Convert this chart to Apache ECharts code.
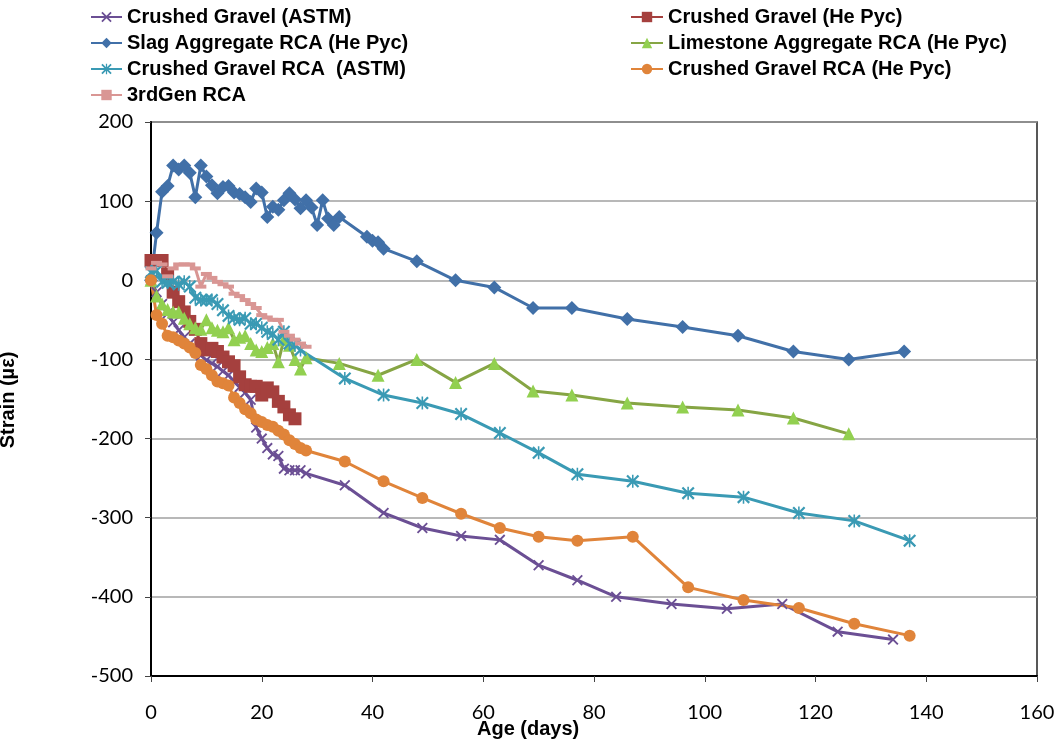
<!DOCTYPE html>
<html>
<head>
<meta charset="utf-8">
<script src="https://cdn.jsdelivr.net/npm/echarts@6/dist/echarts.min.js"></script>
<style>html,body{margin:0;padding:0;background:#fff}#c{width:1058px;height:742px}</style>
</head>
<body>
<div id="c"></div>
<script>
// ---- Data ----
const xTicks = [0, 20, 40, 60, 80, 100, 120, 140, 160];
const yTicks = [-500, -400, -300, -200, -100, 0, 100, 200];

const cgAstmDays = [0,1,2,3,4,5,6,7,8,9,10,11,12,13,14,15,16,17,18,19,20,21,22,23,24,25,26,27,28,35,42,49,56,63,70,77,84,94,104,114,124,134];
const cgAstmVals = [0,-15,-30,-42,-53,-63,-72,-80,-88,-95,-101,-105,-109,-115,-120,-128,-135,-142,-151,-186,-200,-212,-220,-222,-238,-240,-240,-240,-244,-259,-294,-313,-323,-328,-360,-379,-400,-409,-415,-409,-444,-454];

const cgHeDays = [0,1,2,3,4,5,6,7,8,9,10,11,12,13,14,15,16,17,18,19,20,21,22,23,24,25,26];
const cgHeVals = [25,25,25,8,-15,-27,-40,-52,-62,-80,-88,-86,-90,-97,-103,-108,-122,-132,-134,-134,-145,-136,-141,-153,-160,-170,-175];

const slagDays = [0,1,2,3,4,5,6,7,8,9,10,11,12,13,14,15,16,17,18,19,20,21,22,23,24,25,26,27,28,29,30,31,32,33,34,39,40,41,42,48,55,62,69,76,86,96,106,116,126,136];
const slagVals = [0,60,112,119,145,140,145,136,105,145,131,120,110,118,119,111,109,105,99,116,111,80,93,89,101,110,102,91,101,92,70,101,78,70,80,55,50,48,40,24,0,-9,-35,-35,-49,-59,-70,-90,-100,-90];

const limeDays = [0,1,2,3,4,5,6,7,8,9,10,11,12,13,14,15,16,17,18,19,20,21,22,23,24,25,26,27,28,34,41,48,55,62,69,76,86,96,106,116,126];
const limeVals = [0,-20,-30,-37,-40,-40,-48,-55,-60,-62,-50,-60,-63,-65,-60,-75,-72,-70,-80,-88,-90,-85,-80,-103,-75,-82,-100,-112,-98,-105,-120,-100,-129,-105,-140,-145,-155,-160,-164,-174,-194];

const cgRcaAstmDays = [0,1,2,3,4,5,6,7,8,9,10,11,12,13,14,15,16,17,18,19,20,21,22,23,24,25,26,27,35,42,49,56,63,70,77,87,97,107,117,127,137];
const cgRcaAstmVals = [10,12,-2,-3,-2,-5,-2,-8,-22,-25,-25,-25,-30,-38,-45,-48,-50,-48,-55,-55,-60,-65,-68,-75,-65,-80,-82,-88,-124,-145,-155,-169,-193,-218,-245,-254,-269,-274,-294,-304,-329];

const cgRcaHeDays = [0,1,2,3,4,5,6,7,8,9,10,11,12,13,14,15,16,17,18,19,20,21,22,23,24,25,26,27,28,35,42,49,56,63,70,77,87,97,107,117,127,137];
const cgRcaHeVals = [0,-44,-55,-70,-72,-76,-80,-85,-92,-107,-112,-120,-128,-130,-133,-148,-155,-163,-168,-176,-179,-183,-185,-190,-195,-202,-207,-212,-215,-229,-254,-275,-295,-313,-324,-329,-324,-388,-404,-414,-434,-449];

const gen3Days = [0,1,2,3,4,5,6,7,8,9,10,11,12,13,14,15,16,17,18,19,20,21,22,23,24,25,26,27,28];
const gen3Vals = [15,22,20,5,15,20,20,20,15,-8,8,3,-2,-5,-8,-17,-20,-25,-30,-35,-44,-47,-50,-50,-65,-70,-75,-80,-84];

const names = ['Crushed Gravel (ASTM)','Crushed Gravel (He Pyc)','Slag Aggregate RCA (He Pyc)','Limestone Aggregate RCA (He Pyc)','Crushed Gravel RCA  (ASTM)','Crushed Gravel RCA (He Pyc)','3rdGen RCA'];

// ---- helpers ----
function pairs(d, v) { return d.map((x, i) => [x, v[i]]); }
const X_PATH = 'path://M0,1.2 L1.2,0 L10,8.8 L8.8,10 Z M8.8,0 L10,1.2 L1.2,10 L0,8.8 Z';
const AST_PATH = 'path://M0,1.2 L1.2,0 L10,8.8 L8.8,10 Z M8.8,0 L10,1.2 L1.2,10 L0,8.8 Z M4.4,0 L5.6,0 L5.6,10 L4.4,10 Z';

function mk(name, d, v, lineColor, markColor, symbol, size) {
  return {
    name, type: 'line', data: pairs(d, v),
    symbol, symbolSize: size, showSymbol: true,
    lineStyle: { color: lineColor, width: 3 },
    itemStyle: { color: markColor, borderWidth: 0 },
    emphasis: { disabled: true },
    z: 2
  };
}

const series = [
  mk(names[0], cgAstmDays, cgAstmVals, '#6B4F94', '#6B4F94', X_PATH, 11),
  mk(names[1], cgHeDays, cgHeVals, '#A5403E', '#A5403E', 'rect', 13),
  mk(names[2], slagDays, slagVals, '#4170A8', '#4170A8', 'diamond', 14),
  mk(names[3], limeDays, limeVals, '#86A544', '#92D050', 'triangle', 13),
  mk(names[4], cgRcaAstmDays, cgRcaAstmVals, '#3A9AB4', '#3A9AB4', AST_PATH, 13),
  mk(names[5], cgRcaHeDays, cgRcaHeVals, '#E0843A', '#E0843A', 'circle', 12),
  mk(names[6], gen3Days, gen3Vals, '#D99694', '#D99694', 'rect', [11, 4])
];

const chart = echarts.init(document.getElementById('c'), null, { renderer: 'canvas' });
const legendText = { fontFamily: 'Liberation Sans Narrow, Liberation Sans, Arial, sans-serif', fontWeight: 'bold', fontSize: 20, color: '#000', lineHeight: 20 };
chart.setOption({
  animation: false,
  backgroundColor: '#fff',
  grid: { left: 151, right: 21, top: 122, bottom: 66, show: true, borderColor: '#222', borderWidth: 1.5, backgroundColor: 'transparent' },
  legend: [
    { data: [names[0], names[2], names[4], names[6]], orient: 'vertical', left: 90, top: 7, padding: 0, itemWidth: 31, itemHeight: 13, itemGap: 6, textStyle: legendText, selectedMode: false },
    { data: [names[1], names[3], names[5]], orient: 'vertical', left: 630, top: 7, padding: 0, itemWidth: 32, itemHeight: 13, itemGap: 6, textStyle: legendText, selectedMode: false }
  ],
  xAxis: {
    type: 'value', min: xTicks[0], max: xTicks[xTicks.length - 1], interval: 20,
    axisLine: { show: true, onZero: false, lineStyle: { color: '#000', width: 2 } },
    axisTick: { show: true, inside: false, length: 6, lineStyle: { color: '#444', width: 1 } },
    axisLabel: { fontFamily: 'Lato, Liberation Sans, sans-serif', fontSize: 20, color: '#000', margin: 27 },
    splitLine: { show: false }
  },
  yAxis: {
    type: 'value', min: yTicks[0], max: yTicks[yTicks.length - 1], interval: 100,
    axisLine: { show: true, onZero: false, lineStyle: { color: '#000', width: 2 } },
    axisTick: { show: true, inside: false, length: 6, lineStyle: { color: '#444', width: 1 } },
    axisLabel: { fontFamily: 'Lato, Liberation Sans, sans-serif', fontSize: 20, color: '#000', margin: 18 },
    splitLine: { show: true, lineStyle: { color: '#a0a0a0', width: 1.5 } }
  },
  graphic: [
    { type: 'text', left: 477, top: 719, style: { text: 'Age (days)', fontFamily: 'Liberation Sans Narrow, Liberation Sans, sans-serif', fontWeight: 'bold', fontSize: 20, fill: '#000' } },
    { type: 'text', x: 8, y: 400, rotation: Math.PI / 2, style: { text: 'Strain (µε)', fontFamily: 'Liberation Sans Narrow, Liberation Sans, sans-serif', fontWeight: 'bold', fontSize: 20, fill: '#000', align: 'center', verticalAlign: 'middle' } }
  ],
  series
});
</script>
</body>
</html>
